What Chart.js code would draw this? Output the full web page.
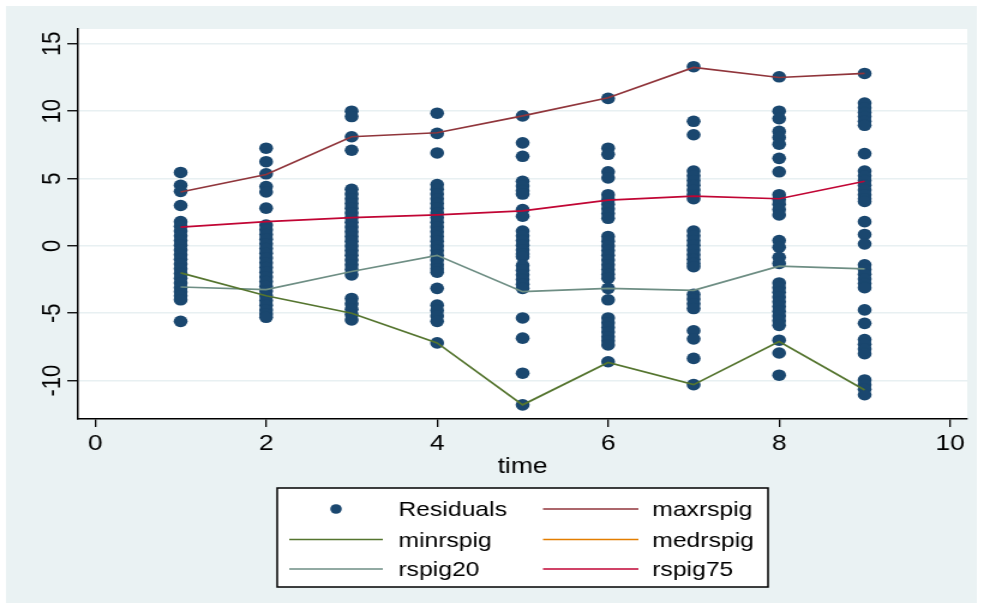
<!DOCTYPE html>
<html>
<head>
<meta charset="utf-8">
<title>Residuals over time</title>
<script src="https://cdn.jsdelivr.net/npm/chart.js@4.4.1/dist/chart.umd.min.js"></script>
<style>
    html, body { margin: 0; padding: 0; background: #fff; overflow: hidden; }
    /* the graph is drawn narrow and widened to the window */
    #wrap { width: 819px; height: 609px; transform: scaleX(1.2); transform-origin: 0 0; }
</style>
</head>
<body>
<div id="wrap"><canvas id="residChart" width="819" height="609"></canvas></div>
<script>
const times = [1, 2, 3, 4, 5, 6, 7, 8, 9];

// residuals at each time
const resT1 = [5.45, 4.5, 4.05, 3.0, 1.8, 1.45, 1.1, 0.75, 0.4, 0.05, -0.3, -0.65, -1.0, -1.35, -1.7, -2.05, -2.4, -2.75, -3.1, -3.4, -3.7, -4.0, -5.6];
const resT2 = [7.25, 6.25, 5.35, 4.4, 4.0, 2.8, 1.55, 1.2, 0.85, 0.5, 0.15, -0.2, -0.55, -0.9, -1.25, -1.6, -1.95, -2.3, -2.65, -3.0, -3.35, -3.7, -4.05, -4.4, -4.75, -5.05, -5.3];
const resT3 = [10.0, 9.6, 8.1, 7.1, 4.2, 3.85, 3.5, 3.15, 2.8, 2.45, 2.1, 1.75, 1.4, 1.05, 0.7, 0.35, 0.0, -0.35, -0.7, -1.05, -1.4, -1.75, -2.15, -3.9, -4.3, -4.7, -5.1, -5.5];
const resT4 = [9.85, 8.35, 6.9, 4.55, 4.2, 3.85, 3.5, 3.15, 2.8, 2.45, 2.1, 1.75, 1.4, 1.05, 0.7, 0.35, 0.0, -0.35, -0.7, -1.05, -1.4, -1.7, -1.95, -3.15, -4.4, -4.8, -5.2, -5.6, -7.2];
const resT5 = [9.65, 7.65, 6.65, 4.8, 4.45, 4.1, 3.85, 2.7, 2.2, 1.1, 0.75, 0.4, 0.05, -0.3, -0.6, -0.8, -1.45, -1.8, -2.15, -2.5, -2.85, -3.15, -5.35, -6.85, -9.45, -11.8];
const resT6 = [10.95, 7.25, 6.8, 5.5, 5.05, 3.8, 3.45, 3.1, 2.75, 2.4, 2.05, 0.7, 0.35, 0.0, -0.35, -0.7, -1.05, -1.4, -1.75, -2.1, -2.4, -3.15, -4.0, -5.35, -5.7, -6.05, -6.4, -6.75, -7.05, -7.35, -8.6];
const resT7 = [13.3, 9.25, 8.25, 5.55, 5.2, 4.85, 4.5, 4.15, 3.8, 3.5, 1.1, 0.75, 0.4, 0.05, -0.3, -0.65, -1.0, -1.3, -1.55, -3.6, -3.95, -4.3, -4.65, -6.3, -6.9, -8.35, -10.3];
const resT8 = [12.55, 10.0, 9.45, 8.5, 8.05, 7.55, 6.5, 5.5, 3.8, 3.45, 3.1, 2.7, 2.3, 0.4, -0.1, -0.85, -1.3, -2.75, -3.1, -3.45, -3.8, -4.15, -4.5, -4.85, -5.2, -5.55, -5.9, -7.0, -7.95, -9.6];
const resT9 = [12.8, 10.6, 10.25, 9.9, 9.6, 9.25, 8.95, 6.85, 5.55, 5.2, 4.85, 4.5, 4.15, 3.8, 3.5, 3.3, 1.8, 0.85, 0.15, -1.4, -1.75, -2.1, -2.45, -2.8, -3.1, -4.75, -5.75, -6.95, -7.3, -7.65, -8.0, -9.95, -10.3, -10.65, -11.05];

// summary lines by time
const maxrspig = [4.0, 5.3, 8.1, 8.4, 9.65, 11.0, 13.25, 12.5, 12.8];
const minrspig = [-2.0, -3.7, -5.0, -7.2, -11.8, -8.65, -10.3, -7.1, -10.7];
const medrspig = [null, null, null, null, null, null, null, null, null];
const rspig20 = [-3.05, -3.25, -1.9, -0.7, -3.4, -3.15, -3.3, -1.5, -1.7];
const rspig75 = [1.4, 1.8, 2.1, 2.3, 2.6, 3.4, 3.7, 3.5, 4.8];

const yTicks = [-10, -5, 0, 5, 10, 15];
const xTicks = [0, 2, 4, 6, 8, 10];

const FONT = '"Liberation Sans", Arial, sans-serif';

const resByTime = [resT1, resT2, resT3, resT4, resT5, resT6, resT7, resT8, resT9];
const residualPoints = [];
resByTime.forEach((vals, i) => {
    vals.forEach(v => residualPoints.push({ x: times[i], y: v }));
});

function linePoints(values) {
    return times.map((t, i) => ({ x: t, y: values[i] }));
}

function lineSet(label, values, color) {
    return {
        label: label,
        data: linePoints(values),
        showLine: true,
        borderColor: color,
        backgroundColor: color,
        borderWidth: 1.7,
        pointRadius: 0,
        tension: 0,
        order: 1
    };
}

// background, rotated y labels, axis title and boxed legend
const stataFrame = {
    id: 'stataFrame',
    beforeDraw(chart) {
        const ctx = chart.ctx;
        const a = chart.chartArea;
        ctx.save();
        ctx.fillStyle = '#ffffff';
        ctx.fillRect(0, 0, chart.width, chart.height);
        ctx.fillStyle = '#eaf2f3';
        ctx.fillRect(5, 6, 809, 597);
        ctx.fillStyle = '#ffffff';
        ctx.fillRect(a.left, a.top, a.right - a.left, a.bottom - a.top);
        ctx.restore();
    },
    afterDraw(chart) {
        const ctx = chart.ctx;
        const a = chart.chartArea;
        const ys = chart.scales.y;
        ctx.save();
        ctx.fillStyle = '#000';
        ctx.font = '22px ' + FONT;
        ctx.textAlign = 'center';
        ctx.textBaseline = 'alphabetic';
        yTicks.forEach(v => {
            ctx.save();
            ctx.translate(50, ys.getPixelForValue(v));
            ctx.rotate(-Math.PI / 2);
            ctx.fillText(String(v), 0, 0);
            ctx.restore();
        });
        ctx.fillText('time', (a.left + a.right) / 2, 473);

        // legend
        const box = { x: 231, y: 488, w: 409, h: 99 };
        ctx.fillStyle = '#ffffff';
        ctx.fillRect(box.x, box.y, box.w, box.h);
        ctx.strokeStyle = '#000';
        ctx.lineWidth = 1.5;
        ctx.strokeRect(box.x, box.y, box.w, box.h);

        const cols = [
            { x1: 241, x2: 319, tx: 332 },
            { x1: 452.5, x2: 532, tx: 543.5 }
        ];
        const rowY = [509, 539.5, 569];
        ctx.font = '20.6px ' + FONT;
        ctx.textAlign = 'left';
        legendOrder.forEach((ds, i) => {
            const c = cols[i % 2];
            const y = rowY[Math.floor(i / 2)];
            if (ds.showLine) {
                ctx.strokeStyle = ds.borderColor;
                ctx.lineWidth = 1.7;
                ctx.beginPath();
                ctx.moveTo(c.x1, y);
                ctx.lineTo(c.x2, y);
                ctx.stroke();
            } else {
                ctx.fillStyle = ds.backgroundColor;
                ctx.beginPath();
                ctx.arc((c.x1 + c.x2) / 2, y, 4.8, 0, Math.PI * 2);
                ctx.fill();
            }
            ctx.fillStyle = '#000';
            ctx.fillText(ds.label, c.tx, y + 7);
        });
        ctx.restore();
    }
};

const residSet = {
    label: 'Residuals',
    data: residualPoints,
    showLine: false,
    backgroundColor: '#1a476f',
    borderColor: '#1a476f',
    borderWidth: 0,
    pointRadius: 5.8,
    order: 2
};
const datasets = [
    residSet,
    lineSet('maxrspig', maxrspig, '#90353b'),
    lineSet('minrspig', minrspig, '#55752f'),
    lineSet('medrspig', medrspig, '#e37e00'),
    lineSet('rspig20', rspig20, '#6e8e84'),
    lineSet('rspig75', rspig75, '#c10534')
];
const legendOrder = datasets;

document.addEventListener('DOMContentLoaded', () => {
    const ctx = document.getElementById('residChart').getContext('2d');
    new Chart(ctx, {
        type: 'scatter',
        data: { datasets: datasets },
        options: {
            responsive: false,
            animation: false,
            layout: { padding: { top: 29, right: 13, left: 0, bottom: 0 } },
            plugins: {
                legend: { display: false },
                tooltip: { enabled: false }
            },
            scales: {
                x: {
                    type: 'linear',
                    min: -0.2,
                    max: 10.2,
                    afterBuildTicks: s => { s.ticks = xTicks.map(v => ({ value: v })); },
                    afterFit: s => { s.height = 190; },
                    ticks: {
                        color: '#000',
                        font: { family: FONT, size: 22 },
                        padding: 4,
                        maxRotation: 0,
                        autoSkip: false
                    },
                    grid: {
                        drawOnChartArea: false,
                        color: '#000',
                        tickLength: 8,
                        lineWidth: 1.3
                    },
                    border: { color: '#000', width: 1.5 }
                },
                y: {
                    type: 'linear',
                    min: -12.85,
                    max: 16.1,
                    afterBuildTicks: s => { s.ticks = yTicks.map(v => ({ value: v })); },
                    afterFit: s => { s.width = 65; },
                    ticks: { display: false },
                    grid: {
                        color: '#e8f0f2',
                        lineWidth: 1.5,
                        tickColor: '#000',
                        tickLength: 9,
                        tickWidth: 1.3
                    },
                    border: { color: '#000', width: 1.5 }
                }
            }
        },
        plugins: [stataFrame]
    });
});
</script>
</body>
</html>
